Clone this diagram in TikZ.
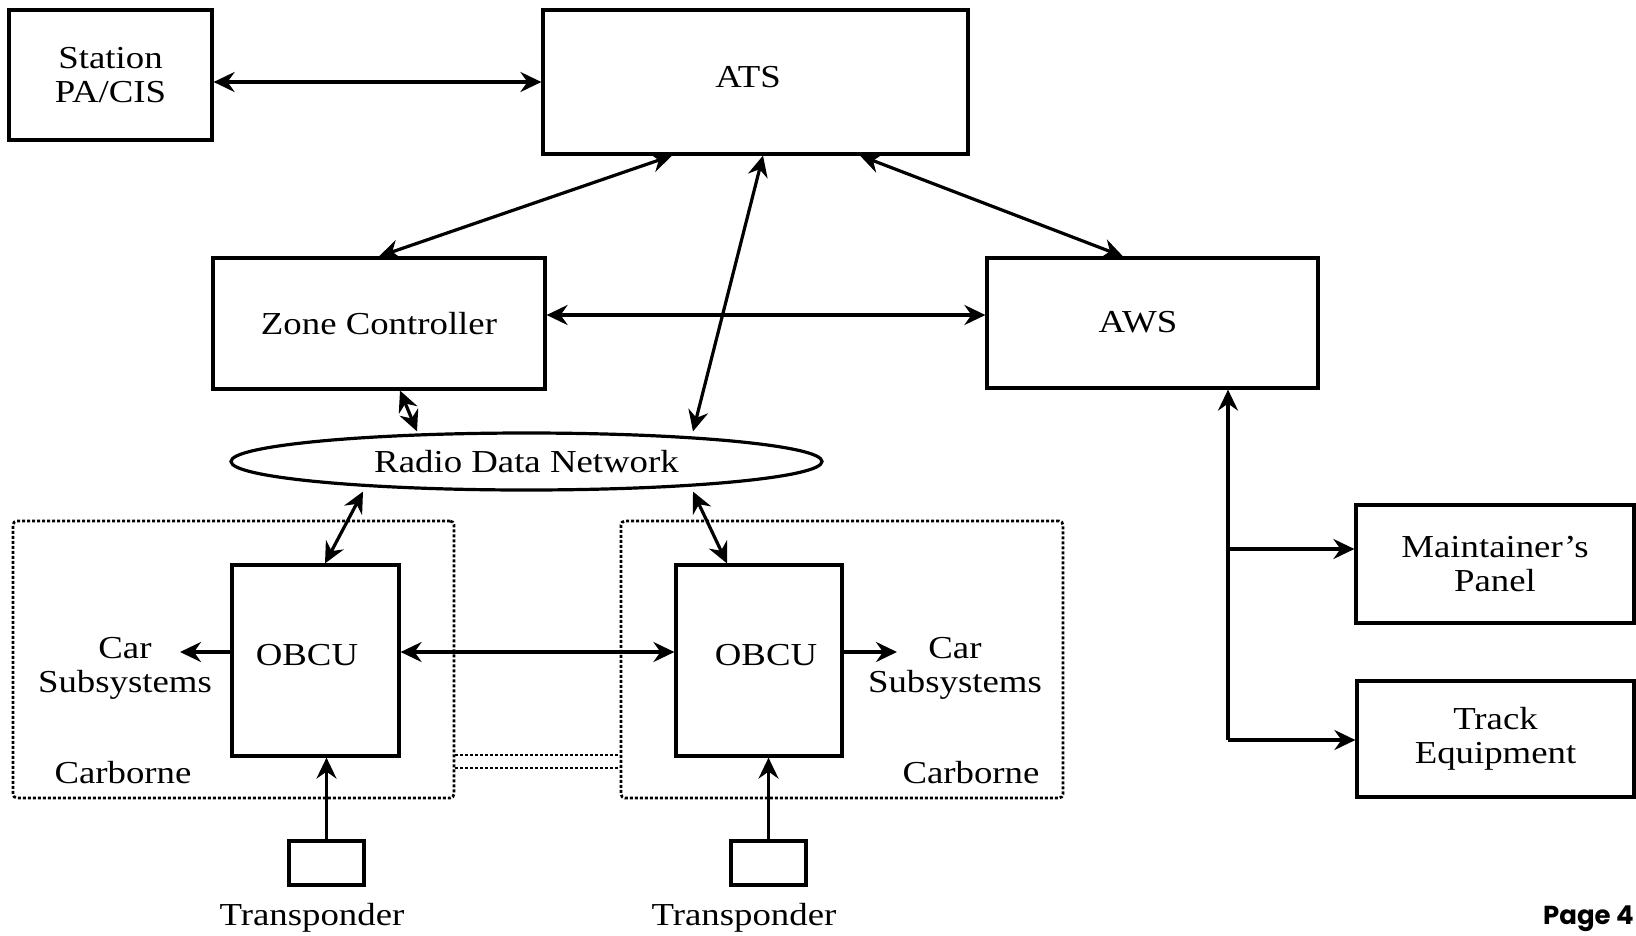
\documentclass[tikz,border=0pt]{standalone}
\usepackage{fontspec}
\setmainfont{Liberation Serif}[FakeStretch=1.15]
\newfontfamily\pagefont{Poppins}
\usetikzlibrary{arrows.meta,shapes.geometric,calc}
\newcommand\mainsize{\fontsize{32}{34}\selectfont}
\begin{document}
\begin{tikzpicture}[x=1pt,y=-1pt,
  >={Stealth[length=21pt,width=20pt,inset=7pt]},
  box/.style={draw, line width=3.2pt, rectangle, inner sep=0pt, align=center, font=\mainsize},
  cbox/.style={draw, line width=2.8pt, dash pattern=on 3pt off 2pt, rounded corners=4pt, rectangle, inner sep=0pt},
  txt/.style={inner sep=0pt, align=center, font=\mainsize},
  conn/.style={line width=3.2pt},
  dotline/.style={line width=2.8pt, dash pattern=on 3pt off 2pt}
]
\useasboundingbox (0,0) rectangle (1636,935);
% boxes
\node[box, minimum width=203pt, minimum height=130pt] (st) at (110.5,75) {Station\\PA/CIS};
\node[box, minimum width=425pt, minimum height=144pt] (ats) at (755.5,82) {};
\node[txt] (atst) at (748,77) {ATS};
\node[box, minimum width=332pt, minimum height=131pt] (zc) at (379,323.5) {Zone Controller};
\node[box, minimum width=331pt, minimum height=130pt] (aws) at (1152.5,323) {};
\node[txt] (awst) at (1138,322) {AWS};
\node[draw, ellipse, line width=3.2pt, minimum width=591pt, minimum height=57pt, inner sep=0pt, font=\mainsize] (rdn) at (526.5,461.5) {Radio Data Network};
% carborne groups
\node[cbox, minimum width=441pt, minimum height=277pt] (cbL) at (233.5,659.5) {};
\node[cbox, minimum width=442pt, minimum height=277pt] (cbR) at (842,659.5) {};
\node[box, minimum width=167pt, minimum height=191pt] (obL) at (315.5,660.5) {};
\node[txt] (obLt) at (307,655) {OBCU};
\node[box, minimum width=166pt, minimum height=191pt] (obR) at (759,660.5) {};
\node[txt] (obRt) at (766,655) {OBCU};
\node[txt] (carL) at (125,668) {Car\\Subsystems};
\node[txt] (carR) at (955,668) {Car\\Subsystems};
\node[txt] (cbLt) at (123,773) {Carborne};
\node[txt] (cbRt) at (971,773) {Carborne};
% transponders
\node[box, minimum width=75pt, minimum height=44pt] (trL) at (326.5,863) {};
\node[box, minimum width=75pt, minimum height=44pt] (trR) at (768.5,863) {};
\node[txt, anchor=base] (trLt) at (312,925) {Transponder};
\node[txt, anchor=base] (trRt) at (744,925) {Transponder};
% wayside
\node[box, minimum width=278pt, minimum height=118pt] (mp) at (1495,564) {Maintainer's\\Panel};
\node[box, minimum width=277pt, minimum height=116pt] (te) at (1495.5,739) {Track\\Equipment};
\node[font=\pagefont\bfseries\fontsize{26}{28}\selectfont, anchor=base east, inner sep=0pt] (pg) at (1634,924) {Page 4};
% coordinates
\coordinate (carLa) at (180,652);
\coordinate (carRa) at (897,652);
\coordinate (j1) at (1228,549);
\coordinate (j2) at (1228,740);
% connectors
\draw[conn,<->] (st.east |- ats.west) -- (ats.west);
\draw[conn,<->] ([xshift=-83.5pt]ats.south) -- (zc.north);
\draw[conn,<->] ([xshift=7.5pt]ats.south) -- ([xshift=166.5pt]rdn.north);
\draw[conn,<->] ([xshift=104.5pt]ats.south) -- ([xshift=-29.5pt]aws.north);
\draw[conn,<->] (zc.east |- 0,315) -- (aws.west |- 0,315);
\draw[conn,<->] ([xshift=21pt]zc.south) -- ([xshift=-109.5pt]rdn.north);
\draw[conn,<->] ([xshift=-163.5pt]rdn.south) -- ([xshift=9.5pt]obL.north);
\draw[conn,<->] ([xshift=166.5pt]rdn.south) -- ([xshift=-32pt]obR.north);
\draw[conn,<->] (obL.east |- carLa) -- (obR.west |- carLa);
\draw[conn,->] (obL.west |- carLa) -- (carLa);
\draw[conn,->] (obR.east |- carRa) -- (carRa);
\draw[conn,->] (trL.north) -- (trL.north |- obL.south);
\draw[conn,->] (trR.north) -- (trR.north |- obR.south);
\draw[conn,->] (j2) -- (aws.south -| j2);
\draw[conn,->] (j1) -- (mp.west |- j1);
\draw[conn,->] (j2) -- (te.west |- j2);
\draw[dotline] (cbL.east |- 0,755) -- (cbR.west |- 0,755);
\draw[dotline] (cbL.east |- 0,768) -- (cbR.west |- 0,768);
\end{tikzpicture}
\end{document}
